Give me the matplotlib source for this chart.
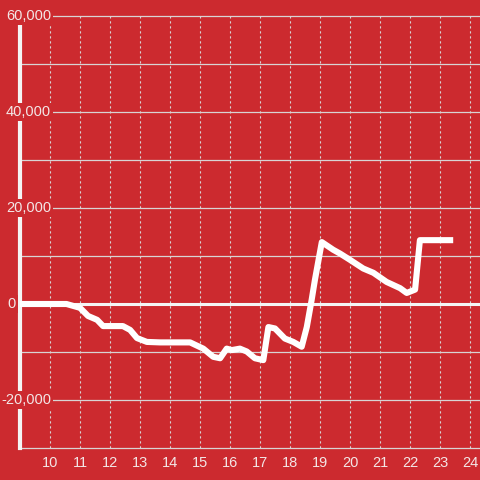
import numpy as np
import matplotlib
matplotlib.use("Agg")
import matplotlib.pyplot as plt
import matplotlib.transforms as mtransforms

# hours of day and running value
hours = [9.0, 10.55, 11.0, 11.27, 11.57, 11.77, 12.43, 12.67, 12.9, 13.23, 13.67,
         14.67, 15.11, 15.44, 15.67, 15.89, 16.06, 16.33, 16.56, 16.83, 17.11,
         17.28, 17.5, 17.83, 18.11, 18.39, 18.56, 18.72, 18.83, 19.06, 19.44,
         19.67, 20.0, 20.44, 20.78, 21.22, 21.67, 21.89, 22.17, 22.33, 23.44]
values = [0, 0, -800, -2500, -3300, -4600, -4600, -5400, -7100, -7900, -8000,
          -8000, -9300, -11000, -11300, -9300, -9600, -9300, -9900, -11300, -11700,
          -4800, -5100, -7200, -7900, -8900, -4800, 800, 5000, 12900, 11300,
          10500, 9200, 7400, 6500, 4600, 3300, 2300, 3000, 13300, 13300]

x_ticks = list(range(10, 25))
y_ticks = [-20000, 0, 20000, 40000, 60000]
y_grid = list(range(-30000, 60001, 10000))

bg = "#cc2a2f"
txt = "#f3e6e6"
grid_col = "#d8d4d4"
plt.rcParams["font.family"] = ["Liberation Sans", "DejaVu Sans"]

fig = plt.figure(figsize=(4.8, 4.8), dpi=100, facecolor=bg)
ax = fig.add_axes([20 / 480, 32 / 480, 460 / 480, 432 / 480])
ax.set_facecolor(bg)
ax.set_xlim(9, 9 + 460 / 30)
ax.set_ylim(-30000, 60000)

# grid
for g in y_grid:
    if g == 0:
        continue
    ax.axhline(g, color=grid_col, lw=0.9, zorder=1, clip_on=False)
for t in x_ticks:
    ax.axvline(t, color=grid_col, lw=0.8, ls=(0, (2, 2.5)), zorder=1)
ax.axhline(0, color="#f4f4f4", lw=2.2, zorder=2)

# data
ax.plot(hours, values, color="white", lw=4.4, solid_capstyle="butt",
        solid_joinstyle="round", zorder=4)

for s in ["top", "right", "bottom"]:
    ax.spines[s].set_visible(False)
ax.spines["left"].set_color("#f4f4f4")
ax.spines["left"].set_linewidth(3)
ax.spines["left"].set_zorder(2.5)

ax.set_xticks(x_ticks)
ax.set_xticklabels([str(t) for t in x_ticks])
ax.tick_params(axis="x", length=0, pad=6, labelsize=10.5, labelcolor=txt)
ax.set_yticks([])

# y labels sit over the spine with a red box behind them
trans = mtransforms.blended_transform_factory(ax.transAxes, ax.transData)
for v in y_ticks:
    lab = f"{v:,}"
    xpos = -4 / 460 if v == 0 else 31 / 460
    ax.text(xpos, v, lab, transform=trans, ha="right", va="center",
            fontsize=10.5, color=txt, zorder=3, clip_on=False,
            bbox=dict(facecolor=bg, edgecolor="none", pad=1.5))

fig.savefig("out.png", dpi=100, facecolor=bg)
